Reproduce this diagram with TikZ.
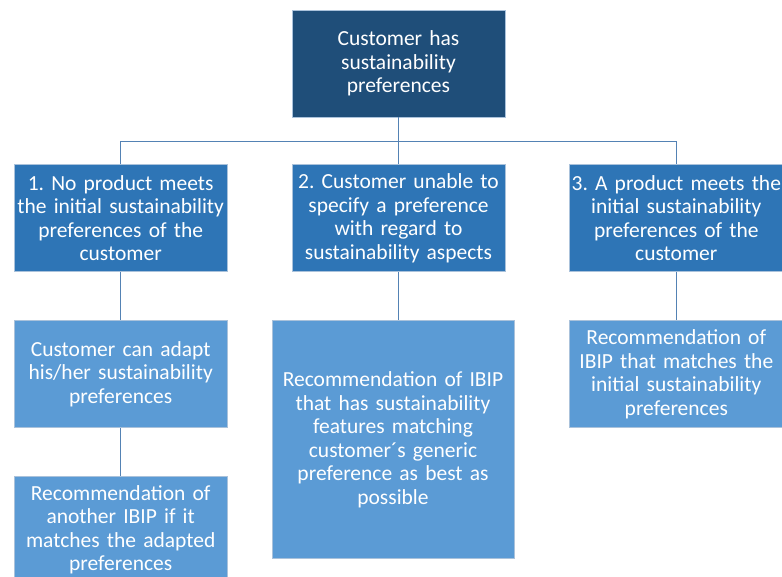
\documentclass[tikz,border=0pt]{standalone}
\usepackage{fontspec}
\setmainfont{Carlito}
\frenchspacing
\usetikzlibrary{positioning}
\definecolor{topblue}{RGB}{31,78,121}
\definecolor{midblue}{RGB}{46,117,182}
\definecolor{lowblue}{RGB}{91,155,213}
\definecolor{rimblue}{RGB}{170,194,219}
\definecolor{wireblue}{RGB}{84,130,180}
\begin{document}
\begin{tikzpicture}[
      x=1pt, y=1pt,
      box/.style={
        draw=rimblue,
        line width=0.8pt,
        text=white,
        align=center,
        inner xsep=0pt,
        inner ysep=2pt,
        text width=213pt,
        minimum height=107pt,
        font=\fontsize{21.5}{23.5}\selectfont
      },
      rootbox/.style={box, fill=topblue},
      casebox/.style={box, fill=midblue},
      stepbox/.style={box, fill=lowblue},
      wire/.style={draw=wireblue, line width=1.3pt}
    ]
    \useasboundingbox (0,0) rectangle (782,-576);
    %% Root
    \node[rootbox] (root) at (398.5,-63.5) {Customer has\\ sustainability\\ preferences};
    %% Cases
    \node[casebox, below=47pt of root] (case-2) {2. Customer unable to\\ specify a preference\\ with regard to\\ sustainability aspects};
    \node[casebox, left=64pt of case-2] (case-1) {1. No product meets\\ the initial sustainability\\ preferences of the\\ customer};
    \node[casebox, right=64pt of case-2] (case-3) {3. A product meets the\\ initial sustainability\\ preferences of the\\ customer};
    %% Outcomes
    \node[stepbox, below=48pt of case-1] (case-1-adapt) {Customer can adapt\\ his/her sustainability\\ preferences};
    \node[stepbox, below=48pt of case-1-adapt] (case-1-rec) {Recommendation of\\ another IBIP if it\\ matches the adapted\\ preferences};
    \node[stepbox, below=48pt of case-2, xshift=-5.5pt, text width=242pt, minimum height=238pt] (case-2-rec) {Recommendation of IBIP\\ that has sustainability\\ features matching\\ customer´s generic\\ preference as best as\\ possible};
    \node[stepbox, below=48pt of case-3] (case-3-rec) {Recommendation of\\ IBIP that matches the\\ initial sustainability\\ preferences};
    %% Connectors
    \coordinate[below=24pt of root.south] (split);
    \draw[wire] (root.south) -- (split);
    \draw[wire] (case-1.north) |- (split) -| (case-3.north);
    \draw[wire] (split) -- (case-2.north);
    \draw[wire] (case-1) -- (case-1-adapt);
    \draw[wire] (case-1-adapt) -- (case-1-rec);
    \draw[wire] (case-2.south) -- (case-2.south |- case-2-rec.north);
    \draw[wire] (case-3) -- (case-3-rec);
  \end{tikzpicture}
\end{document}
